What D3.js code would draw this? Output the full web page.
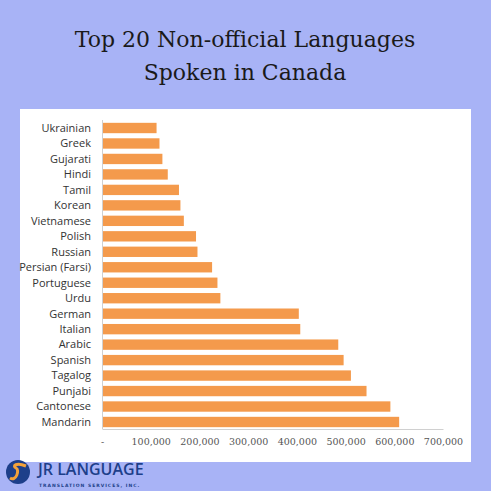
<!DOCTYPE html>
<html><head><meta charset="utf-8">
<script src="https://cdn.jsdelivr.net/npm/d3@7"></script>
<style>body{margin:0;background:#a8b3f6}</style>
</head><body>
<div id="graph"></div>
<script>
const languages = ["Ukrainian","Greek","Gujarati","Hindi","Tamil","Korean","Vietnamese","Polish","Russian","Persian (Farsi)","Portuguese","Urdu","German","Italian","Arabic","Spanish","Tagalog","Punjabi","Cantonese","Mandarin"];
const speakers = [112000,118000,124000,135000,158000,161000,168000,193000,196000,226000,237000,243000,404000,407000,485000,496000,511000,543000,592000,610000];
const tickValues = [0,100000,200000,300000,400000,500000,600000,700000];

const w = 491, h = 491;
const svg = d3.select("#graph").append("svg").attr("width", w).attr("height", h);
svg.append("rect").attr("width", w).attr("height", h).attr("fill", "#a8b3f6");

// title
svg.append("text").attr("x", 245).attr("y", 47).attr("text-anchor", "middle")
    .style("font-family", "DejaVu Serif").style("font-size", "22px").attr("fill", "#1a1a1a")
    .text("Top 20 Non-official Languages");
svg.append("text").attr("x", 245).attr("y", 80).attr("text-anchor", "middle")
    .style("font-family", "DejaVu Serif").style("font-size", "22px").attr("fill", "#1a1a1a")
    .text("Spoken in Canada");

// white panel
svg.append("rect").attr("x", 20).attr("y", 109).attr("width", 451).attr("height", 353).attr("fill", "#ffffff");

const data = languages.map((l, i) => ({ lang: l, value: speakers[i] }));

const xScale = d3.scaleLinear().domain([0, 700000]).range([102, 443]);
const yScale = d3.scaleBand().domain(languages).range([120.5, 429.5]).paddingInner(0.33).paddingOuter(0.15);

svg.selectAll(".bar").data(data).enter().append("rect")
    .attr("class", "bar")
    .attr("x", xScale(0))
    .attr("y", d => yScale(d.lang))
    .attr("width", d => xScale(d.value) - xScale(0))
    .attr("height", yScale.bandwidth())
    .attr("fill", "#f49a4c");

// category labels
svg.selectAll(".lab").data(data).enter().append("text")
    .attr("x", 91)
    .attr("y", d => yScale(d.lang) + yScale.bandwidth() / 2)
    .attr("dy", "0.35em").attr("text-anchor", "end")
    .style("font-family", "Open Sans").style("font-size", "11px").attr("fill", "#333")
    .text(d => d.lang);

// y axis line
svg.append("line").attr("x1", 102.5).attr("x2", 102.5).attr("y1", 120).attr("y2", 429)
    .attr("stroke", "#d0d0d0");

// x axis
const xAxis = d3.axisBottom(xScale).tickValues(tickValues).tickSize(0)
    .tickFormat(d => d === 0 ? "-" : d3.format(",")(d));
const xAxisG = svg.append("g").attr("transform", "translate(0,429)").call(xAxis);
xAxisG.select(".domain").attr("stroke", "#d0d0d0");
xAxisG.selectAll("text").attr("dy", "1.35em")
    .style("font-family", "DejaVu Serif").style("font-size", "9.5px").attr("fill", "#555");

// logo
const logo = svg.append("g").attr("transform", "translate(18,472)");
logo.append("circle").attr("r", 12).attr("fill", "#1d3f8a");
logo.append("path").attr("d", "M-8,6 C-2,10 2,-2 -2,-4 C-6,-6 -2,-10 8,-6")
    .attr("fill", "none").attr("stroke", "#f4a23a").attr("stroke-width", 3);
svg.append("text").attr("x", 38).attr("y", 475)
    .style("font-family", "Open Sans").style("font-size", "16px").style("font-weight", "600")
    .attr("fill", "#1d3f8a").text("JR LANGUAGE");
svg.append("text").attr("x", 39).attr("y", 487)
    .style("font-family", "DejaVu Sans").style("font-size", "4.5px").style("font-weight", "bold")
    .attr("fill", "#1d3f8a").attr("letter-spacing", "1").text("TRANSLATION SERVICES, INC.");
</script>
</body></html>
